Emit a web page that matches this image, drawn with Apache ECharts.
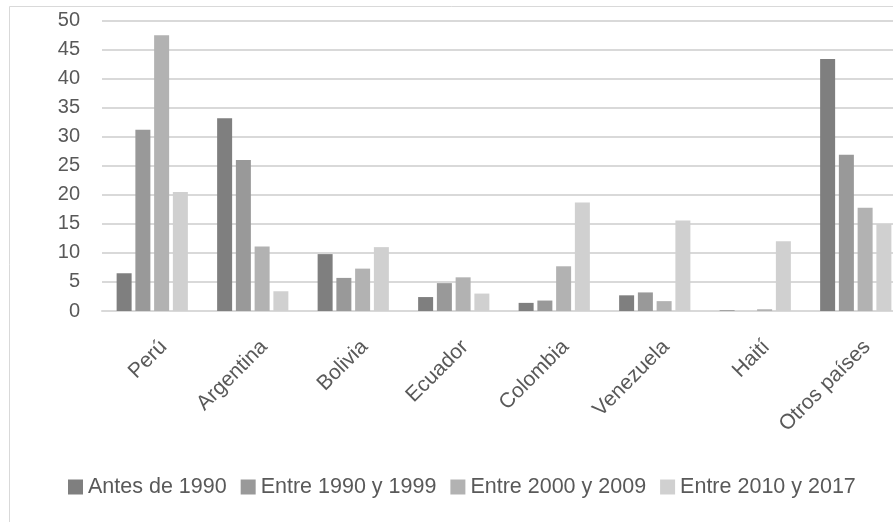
<!DOCTYPE html>
<html>
<head>
<meta charset="utf-8">
<script src="https://cdn.jsdelivr.net/npm/echarts@6/dist/echarts.min.js"></script>
<style>
  html, body { margin: 0; padding: 0; background: #ffffff; }
  #chart { width: 893px; height: 522px; }
</style>
</head>
<body>
<div id="chart"></div>
<script>
// Countries of origin (categories on the x axis)
const categories = ['Perú', 'Argentina', 'Bolivia', 'Ecuador', 'Colombia', 'Venezuela', 'Haití', 'Otros países'];

// Period of arrival (one series each), values in percent
const seriesNames = ['Antes de 1990', 'Entre 1990 y 1999', 'Entre 2000 y 2009', 'Entre 2010 y 2017'];
const antes1990   = [6.5, 33.2, 9.8, 2.4, 1.4, 2.7, 0.1, 43.4];
const entre1990   = [31.2, 26.0, 5.7, 4.8, 1.8, 3.2, 0.0, 26.9];
const entre2000   = [47.5, 11.1, 7.3, 5.8, 7.7, 1.7, 0.3, 17.8];
const entre2010   = [20.5, 3.4, 11.0, 3.0, 18.7, 15.6, 12.0, 15.0];

// Y axis scale
const yMin = 0;
const yMax = 50;
const yStep = 5;

const seriesValues = [antes1990, entre1990, entre2000, entre2010];
const seriesColors = ['#7f7f7f', '#999999', '#b2b2b2', '#d0d0d0'];

const textColor = '#595959';
const fontFamily = '"Liberation Sans", Arial, sans-serif';

const chart = echarts.init(document.getElementById('chart'), null, { renderer: 'canvas' });

chart.setOption({
  animation: false,
  backgroundColor: '#ffffff',
  color: seriesColors,
  graphic: [{
    type: 'rect',
    silent: true,
    z: -1,
    shape: { x: 9.5, y: 6.5, width: 1000, height: 1000 },
    style: { fill: 'none', stroke: '#d9d9d9', lineWidth: 1 }
  }],
  grid: {
    left: 102,
    right: -13,
    top: 20.7,
    bottom: 211,
    containLabel: false,
    outerBoundsMode: 'none'
  },
  legend: {
    data: seriesNames,
    left: 68,
    top: 476,
    padding: 0,
    icon: 'rect',
    itemWidth: 15,
    itemHeight: 15,
    itemGap: 14,
    textStyle: { color: textColor, fontSize: 21.5, fontFamily: fontFamily }
  },
  xAxis: {
    type: 'category',
    data: categories,
    axisLine: { show: true, lineStyle: { color: '#d9d9d9', width: 2 } },
    axisTick: { show: false },
    axisLabel: {
      interval: 0,
      rotate: 45,
      margin: 44,
      padding: [0, -16, 0, 0],
      color: textColor,
      fontSize: 21,
      fontFamily: fontFamily
    }
  },
  yAxis: {
    type: 'value',
    min: yMin,
    max: yMax,
    interval: yStep,
    axisLine: { show: false },
    axisTick: { show: false },
    splitLine: { show: true, lineStyle: { color: '#d9d9d9', width: 2 } },
    axisLabel: {
      margin: 22,
      color: textColor,
      fontSize: 20,
      fontFamily: fontFamily
    }
  },
  series: seriesNames.map((name, i) => ({
    name: name,
    type: 'bar',
    data: seriesValues[i],
    barWidth: 15,
    barGap: '25%',
    itemStyle: { color: seriesColors[i] },
    emphasis: { disabled: true }
  }))
});
</script>
</body>
</html>
